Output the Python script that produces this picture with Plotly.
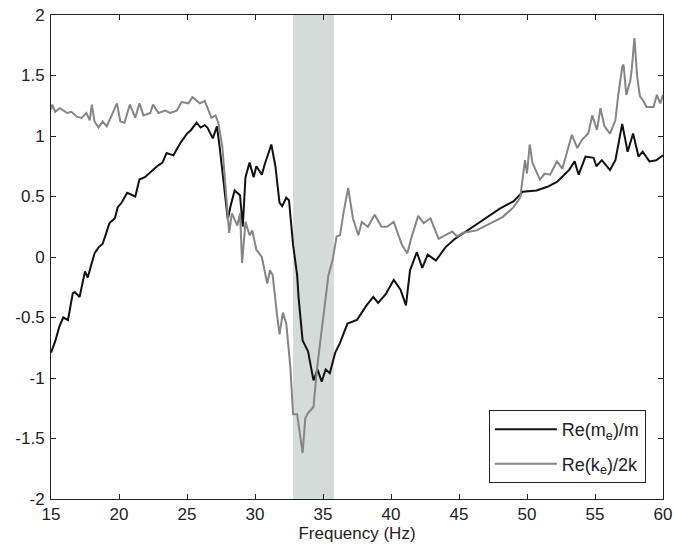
import plotly.graph_objects as go

# Re(m_e)/m  (black)
freq_m = [15.0, 15.3, 15.6, 15.9, 16.25, 16.6, 16.75, 17.1, 17.5, 17.7, 18.2, 18.5, 18.8,
          19.3, 19.7, 19.9, 20.2, 20.6, 21.2, 21.5, 21.9, 22.3, 22.8, 23.2, 23.5, 24.0,
          24.5, 25.0, 25.3, 25.7, 26.0, 26.3, 26.5, 26.9, 27.2, 27.4, 27.7, 28.0, 28.2,
          28.5, 28.9, 29.1, 29.3, 29.6, 29.9, 30.1, 30.5, 30.7, 31.2, 31.5, 31.8, 32.0,
          32.3, 32.5, 32.8, 33.1, 33.2, 33.5, 33.9, 34.3, 34.6, 34.9, 35.2, 35.5, 35.9,
          36.25, 36.8, 37.5, 38.2, 38.7, 39.05, 39.6, 40.2, 40.7, 41.1, 41.4, 41.9, 42.3,
          42.7, 43.3, 44.0, 44.7, 45.1, 46.0, 47.1, 48.0, 49.0, 49.7, 50.7, 51.5, 52.2,
          52.7, 53.1, 53.5, 53.8, 54.3, 54.9, 55.1, 55.5, 56.1, 56.5, 57.0, 57.4, 57.8,
          58.2, 58.5, 59.0, 59.5, 60.0]
re_m = [-0.79, -0.70, -0.58, -0.50, -0.52, -0.30, -0.29, -0.33, -0.12, -0.17, 0.03, 0.08, 0.11,
        0.28, 0.32, 0.41, 0.45, 0.53, 0.50, 0.64, 0.66, 0.70, 0.75, 0.78, 0.86, 0.84,
        0.94, 1.02, 1.05, 1.11, 1.07, 1.09, 1.07, 0.98, 1.08, 0.91, 0.62, 0.31, 0.42,
        0.55, 0.51, 0.25, 0.66, 0.78, 0.66, 0.75, 0.68, 0.76, 0.93, 0.75, 0.45, 0.42,
        0.49, 0.47, 0.10, -0.15, -0.33, -0.69, -0.78, -1.02, -0.93, -1.03, -0.93, -0.96, -0.79,
        -0.71, -0.55, -0.52, -0.40, -0.33, -0.38, -0.31, -0.19, -0.27, -0.40, -0.11, 0.04, -0.09,
        0.02, -0.03, 0.08, 0.15, 0.18, 0.25, 0.33, 0.40, 0.46, 0.54, 0.55, 0.58, 0.62,
        0.68, 0.72, 0.79, 0.68, 0.83, 0.82, 0.75, 0.80, 0.72, 0.80, 1.10, 0.87, 1.02,
        0.83, 0.87, 0.79, 0.80, 0.84]

# Re(k_e)/2k  (grey)
freq_k = [15.0, 15.1, 15.3, 15.65, 16.2, 16.5, 16.9, 17.25, 17.6, 17.85, 18.0, 18.2, 18.5,
          18.8, 19.1, 19.5, 19.85, 20.1, 20.4, 20.8, 21.2, 21.5, 21.8, 22.3, 22.5, 22.9,
          23.4, 23.75, 24.25, 24.6, 25.1, 25.4, 25.95, 26.3, 26.5, 26.8, 27.1, 27.3, 27.6,
          27.8, 28.1, 28.3, 28.7, 28.9, 29.05, 29.3, 29.6, 29.8, 30.1, 30.5, 30.9, 31.1,
          31.3, 31.6, 31.8, 32.05, 32.3, 32.6, 32.8, 33.1, 33.3, 33.5, 33.7, 33.9, 34.3,
          34.55, 34.8, 35.1, 35.4, 35.7, 36.0, 36.25, 36.5, 36.85, 37.2, 37.6, 37.85, 38.3,
          38.8, 39.3, 39.7, 40.2, 40.8, 41.2, 41.5, 42.0, 42.4, 42.9, 43.5, 44.0, 44.5,
          44.85, 45.3, 46.3, 47.3, 48.2, 49.0, 49.5, 49.85, 50.0, 50.2, 50.4, 50.95, 51.3,
          51.7, 52.2, 52.6, 53.0, 53.3, 53.7, 54.05, 54.5, 54.8, 55.15, 55.4, 55.7, 56.1,
          56.5, 56.7, 57.0, 57.1, 57.3, 57.6, 57.7, 57.9, 58.1, 58.3, 58.5, 58.8, 59.3,
          59.55, 59.8, 60.0]
re_k = [1.22, 1.26, 1.20, 1.23, 1.19, 1.20, 1.16, 1.15, 1.19, 1.13, 1.26, 1.12, 1.07,
        1.12, 1.08, 1.19, 1.27, 1.12, 1.11, 1.26, 1.15, 1.27, 1.17, 1.19, 1.26, 1.19,
        1.21, 1.19, 1.21, 1.28, 1.27, 1.32, 1.27, 1.29, 1.24, 1.15, 1.17, 1.11, 0.91,
        0.61, 0.20, 0.36, 0.26, 0.36, -0.05, 0.29, 0.18, 0.22, 0.06, 0.00, -0.22, -0.11,
        -0.15, -0.46, -0.64, -0.46, -0.55, -0.91, -1.30, -1.30, -1.45, -1.62, -1.33, -1.29, -1.24,
        -0.93, -0.70, -0.42, -0.15, -0.03, 0.17, 0.18, 0.36, 0.57, 0.32, 0.18, 0.29, 0.25,
        0.35, 0.25, 0.25, 0.29, 0.10, 0.03, 0.16, 0.34, 0.28, 0.32, 0.15, 0.18, 0.21,
        0.17, 0.20, 0.22, 0.28, 0.33, 0.41, 0.49, 0.80, 0.69, 0.93, 0.78, 0.64, 0.69,
        0.68, 0.79, 0.73, 0.88, 1.01, 0.90, 0.97, 1.02, 1.17, 1.05, 1.23, 1.08, 1.02,
        1.13, 1.33, 1.57, 1.59, 1.34, 1.46, 1.55, 1.81, 1.49, 1.33, 1.30, 1.24, 1.24,
        1.34, 1.27, 1.34]

band = [32.8, 35.8]
x_ticks = [15, 20, 25, 30, 35, 40, 45, 50, 55, 60]
y_ticks = [-2, -1.5, -1, -0.5, 0, 0.5, 1, 1.5, 2]
y_labels = ["-2", "-1.5", "-1", "-0.5", "0", "0.5", "1", "1.5", "2"]

fig = go.Figure()
fig.add_vrect(x0=band[0], x1=band[1], fillcolor="#d4dbd9", opacity=1,
              line_width=0, layer="below")
fig.add_trace(go.Scatter(x=freq_m, y=re_m, mode="lines", name="Re(m<sub>e</sub>)/m",
                         legendgroup="m", line=dict(color="#111111", width=2)))
fig.add_trace(go.Scatter(x=freq_k, y=re_k, mode="lines", name="Re(k<sub>e</sub>)/2k",
                         legendgroup="k", line=dict(color="#858585", width=2)))

axis_common = dict(showline=True, linecolor="#222222", linewidth=1, mirror="allticks",
                   ticks="inside", ticklen=5, tickcolor="#222222", showgrid=False,
                   zeroline=False, automargin=False,
                   tickfont=dict(size=17, color="#222222"))
fig.update_xaxes(range=[15, 60], tickvals=x_ticks, **axis_common,
                 title=dict(text="Frequency (Hz)", font=dict(size=17, color="#222222"),
                            standoff=2))
fig.update_yaxes(range=[-2, 2], tickvals=y_ticks, ticktext=y_labels, ticklabelstandoff=2,
                 **axis_common)

fig.update_layout(
    width=674, height=548,
    margin=dict(l=51, r=11, t=15, b=49, autoexpand=False),
    paper_bgcolor="white", plot_bgcolor="white",
    font=dict(family="Liberation Sans, Arial, sans-serif", color="#222222"),
    legend=dict(x=0.972, y=0.033, xanchor="right", yanchor="bottom",
                bgcolor="white", bordercolor="#222222", borderwidth=1,
                font=dict(size=18), itemwidth=62, tracegroupgap=8),
)

fig.write_html("out.html", config={"displayModeBar": False},
               post_script="document.body.style.margin='0';document.body.style.overflow='hidden';")
